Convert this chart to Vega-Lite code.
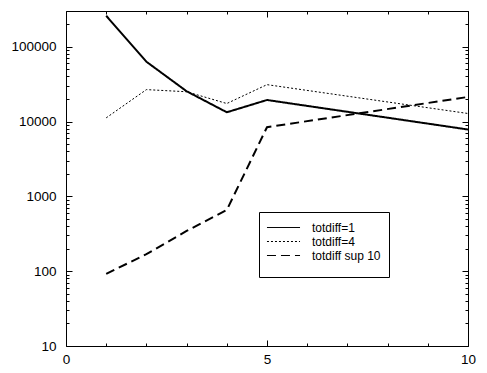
{
  "$schema": "https://vega.github.io/schema/vega-lite/v6.json",
  "width": 402,
  "height": 335,
  "autosize": {"type": "none"},
  "padding": {"left": 66, "top": 11, "right": 19, "bottom": 27},
  "background": "white",
  "config": {
    "view": {"stroke": "black", "strokeWidth": 1},
    "font": "Liberation Sans",
    "axis": {"labelFont": "Liberation Sans", "labelFontSize": 13.5, "labelColor": "black", "tickColor": "black", "domain": false, "grid": false, "title": null, "labelFlush": false, "labelOverlap": false}
  },
  "data": {
    "values": [
      {"x": 1, "y": 259000, "series": "totdiff=1"},
      {"x": 2, "y": 63000, "series": "totdiff=1"},
      {"x": 3, "y": 25400, "series": "totdiff=1"},
      {"x": 4, "y": 13300, "series": "totdiff=1"},
      {"x": 5, "y": 19400, "series": "totdiff=1"},
      {"x": 10, "y": 7820, "series": "totdiff=1"},
      {"x": 1, "y": 11200, "series": "totdiff=4"},
      {"x": 2, "y": 26700, "series": "totdiff=4"},
      {"x": 3, "y": 25000, "series": "totdiff=4"},
      {"x": 4, "y": 17400, "series": "totdiff=4"},
      {"x": 5, "y": 31100, "series": "totdiff=4"},
      {"x": 10, "y": 12800, "series": "totdiff=4"},
      {"x": 1, "y": 92, "series": "totdiff sup 10"},
      {"x": 2, "y": 169, "series": "totdiff sup 10"},
      {"x": 3, "y": 345, "series": "totdiff sup 10"},
      {"x": 4, "y": 657, "series": "totdiff sup 10"},
      {"x": 5, "y": 8400, "series": "totdiff sup 10"},
      {"x": 10, "y": 21300, "series": "totdiff sup 10"}
    ]
  },
  "layer": [
    {
      "mark": {"type": "line", "color": "black", "strokeCap": "butt"},
      "encoding": {
        "x": {
          "field": "x", "type": "quantitative",
          "scale": {"domain": [0, 10], "nice": false, "zero": false},
          "axis": {
            "orient": "bottom",
            "values": [0, 1, 2, 3, 4, 5, 6, 7, 8, 9, 10],
            "labelExpr": "datum.value % 5 === 0 ? datum.label : ''",
            "tickSize": {"condition": {"test": "datum.value % 5 === 0", "value": -6}, "value": -3},
            "labelPadding": 12
          }
        },
        "y": {
          "field": "y", "type": "quantitative",
          "scale": {"type": "log", "domain": [10, 300000], "nice": false},
          "axis": {
            "orient": "left",
            "values": [10, 20, 30, 40, 50, 60, 70, 80, 90, 100, 200, 300, 400, 500, 600, 700, 800, 900, 1000, 2000, 3000, 4000, 5000, 6000, 7000, 8000, 9000, 10000, 20000, 30000, 40000, 50000, 60000, 70000, 80000, 90000, 100000, 200000, 300000],
            "format": "d",
            "labelExpr": "indexof([10, 100, 1000, 10000, 100000], datum.value) >= 0 ? datum.label : ''",
            "tickSize": {"condition": {"test": "indexof([10, 100, 1000, 10000, 100000], datum.value) >= 0", "value": -6}, "value": -3},
            "labelPadding": 16
          }
        },
        "strokeDash": {
          "field": "series", "type": "nominal",
          "scale": {"domain": ["totdiff=1", "totdiff=4", "totdiff sup 10"], "range": [[1, 0], [2, 2], [9, 5]]},
          "legend": {
            "orient": "none", "legendX": 193, "legendY": 201,
            "title": " ", "titleOrient": "bottom", "titleFontSize": 7, "titlePadding": 0,
            "strokeColor": "black", "padding": 8,
            "symbolType": "M-2.36,0H2.36", "symbolSize": 196, "symbolStrokeWidth": 1, "symbolStrokeColor": "black",
            "symbolOffset": 9,
            "labelFont": "Liberation Sans", "labelFontSize": 12, "labelColor": "black",
            "labelOffset": 21, "rowPadding": 0,
            "encode": {"symbols": {"update": {"strokeWidth": {"value": 1}, "stroke": {"value": "black"}}}}
          }
        },
        "strokeWidth": {
          "condition": {"test": "datum.series === 'totdiff=4'", "value": 1},
          "value": 2
        }
      }
    },
    {
      "mark": {"type": "point", "opacity": 0},
      "encoding": {
        "x": {
          "field": "x", "type": "quantitative",
          "axis": {
            "orient": "top",
            "values": [0, 1, 2, 3, 4, 5, 6, 7, 8, 9, 10],
            "labels": false,
            "tickSize": {"condition": {"test": "datum.value % 5 === 0", "value": -6}, "value": -3}
          }
        },
        "y": {
          "field": "y", "type": "quantitative",
          "axis": {
            "orient": "right",
            "values": [10, 20, 30, 40, 50, 60, 70, 80, 90, 100, 200, 300, 400, 500, 600, 700, 800, 900, 1000, 2000, 3000, 4000, 5000, 6000, 7000, 8000, 9000, 10000, 20000, 30000, 40000, 50000, 60000, 70000, 80000, 90000, 100000, 200000, 300000],
            "labels": false,
            "tickSize": {"condition": {"test": "indexof([10, 100, 1000, 10000, 100000], datum.value) >= 0", "value": -6}, "value": -3}
          }
        }
      }
    }
  ],
  "resolve": {"axis": {"x": "independent", "y": "independent"}}
}
